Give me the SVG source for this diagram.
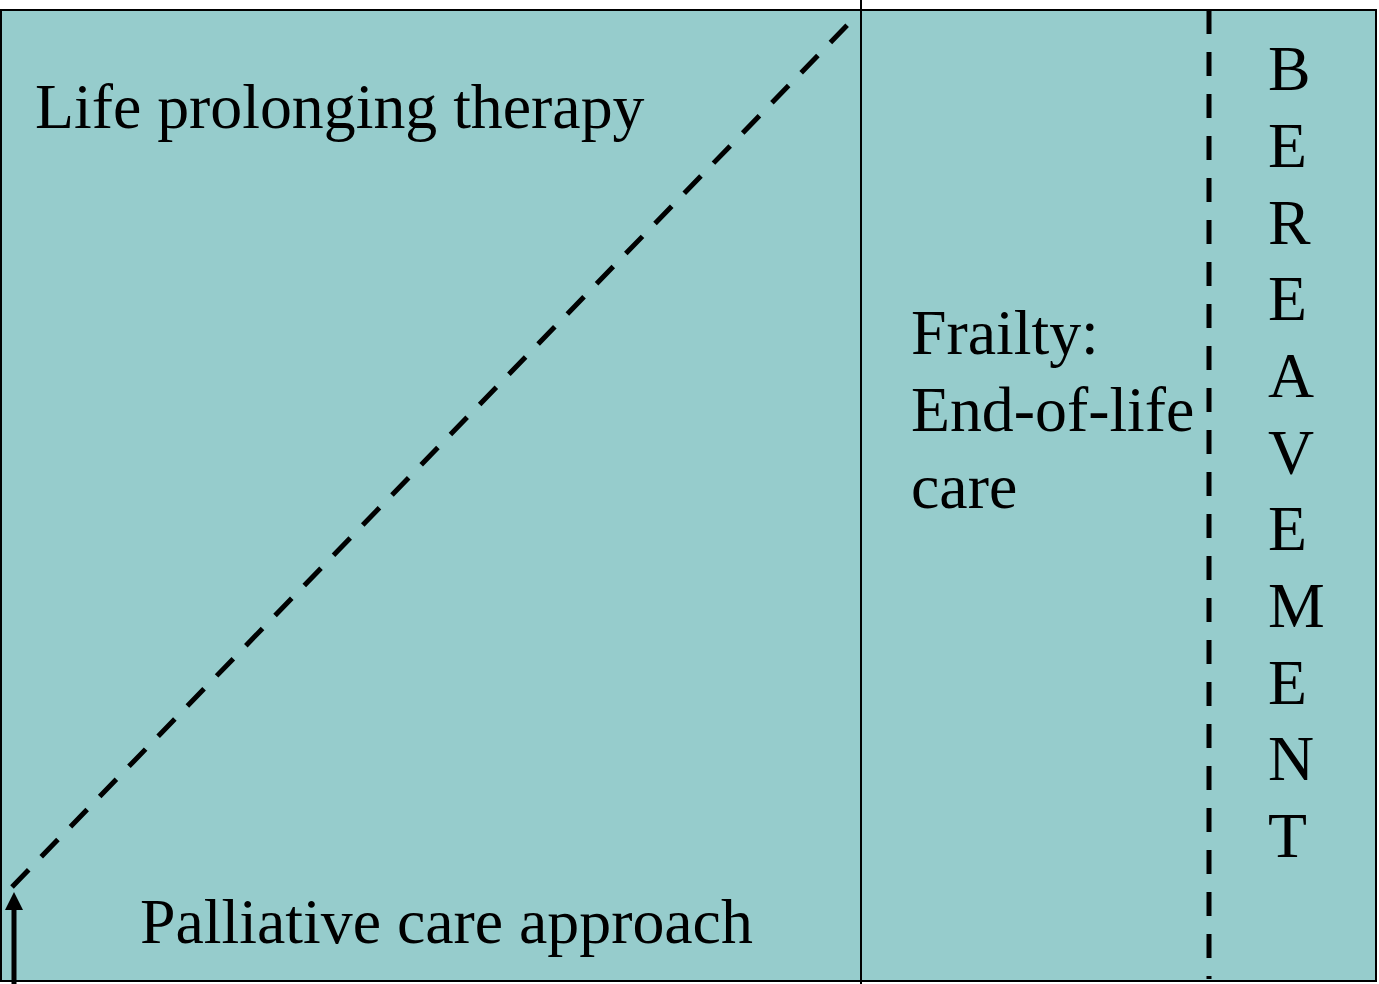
<svg xmlns="http://www.w3.org/2000/svg" width="1379" height="984" viewBox="0 0 1379 984">
<defs>
<style>
.t{font-family:"Liberation Serif","Times New Roman",serif;font-size:63.8px;fill:#000}
.dash{stroke:#000;stroke-width:5;stroke-dasharray:24 18;fill:none}
</style>
</defs>
<rect width="1379" height="984" fill="#ffffff"/>
<g id="panel">
<rect x="1" y="10" width="1375" height="971" fill="#96CCCC" stroke="#000" stroke-width="2"/>
</g>
<g id="connectors">
<line x1="861" y1="0" x2="861" y2="984" stroke="#000" stroke-width="2"/>
<line class="dash" x1="12" y1="887" x2="858" y2="14"/>
<line class="dash" x1="1209" y1="10" x2="1209" y2="979"/>
<line x1="14" y1="984" x2="14" y2="905" stroke="#000" stroke-width="5"/>
<polygon points="14,892 5,910 23,910" fill="#000"/>
</g>
<g id="life"><text class="t" x="35" y="128">Life prolonging therapy</text></g>
<g id="palliative"><text class="t" x="140" y="943">Palliative care approach</text></g>
<g id="frailty">
<text class="t" x="911" y="354">Frailty:</text>
<text class="t" x="911" y="431">End-of-life</text>
<text class="t" x="911" y="508">care</text>
</g>
<g id="bereavement">
<text class="t" x="1268" y="90">B</text>
<text class="t" x="1268" y="167">E</text>
<text class="t" x="1268" y="244">R</text>
<text class="t" x="1268" y="320">E</text>
<text class="t" x="1268" y="397">A</text>
<text class="t" x="1268" y="474">V</text>
<text class="t" x="1268" y="550">E</text>
<text class="t" x="1268" y="627">M</text>
<text class="t" x="1268" y="704">E</text>
<text class="t" x="1268" y="780">N</text>
<text class="t" x="1268" y="857">T</text>
</g>
</svg>
